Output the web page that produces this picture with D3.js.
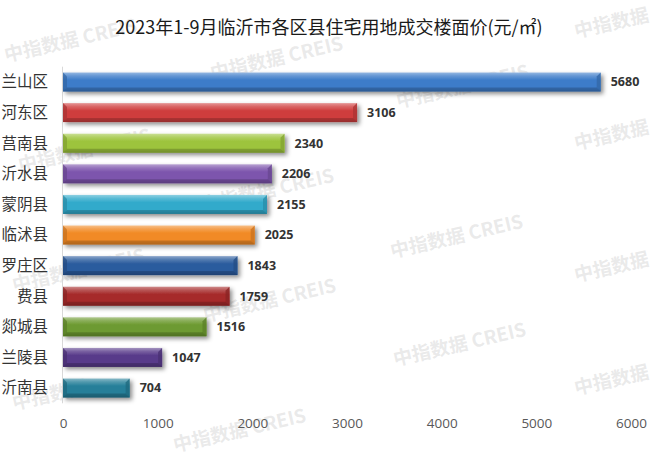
<!DOCTYPE html>
<html><head><meta charset="utf-8">
<script src="https://cdn.jsdelivr.net/npm/d3@7"></script>
<style>html,body{margin:0;padding:0;background:#fff;}svg{display:block;}</style>
</head><body>
<svg id="c" width="660" height="463"></svg>
<script>
const title = "2023年1-9月临沂市各区县住宅用地成交楼面价(元/㎡)";
const categories = ["兰山区","河东区","莒南县","沂水县","蒙阴县","临沭县","罗庄区","费县","郯城县","兰陵县","沂南县"];
const values = [5680,3106,2340,2206,2155,2025,1843,1759,1516,1047,704];
const barColors = ["#3d7cc9","#cf3e3e","#9dc43c","#7d55ad","#31aacb","#f18a25","#2b5c9e","#a62b2b","#6d9a30","#583a8a","#257f99"];
const tickValues = [0,1000,2000,3000,4000,5000,6000];
const watermarkFull = "中指数据 CREIS";
const watermarkShort = "中指数据";
const watermarkFullAnchors = [[6,62],[212,80],[398,108],[20,172],[203,212],[392,258],[14,292],[205,322],[395,366],[175,452]];
const watermarkShortAnchors = [[576,38],[576,150],[576,282],[576,395],[14,410]];

const svg = d3.select("#c");
const defs = svg.append("defs");
const f = defs.append("filter").attr("id","sh").attr("x","-10%").attr("y","-50%").attr("width","130%").attr("height","220%");
f.append("feDropShadow").attr("dx",2.5).attr("dy",2.5).attr("stdDeviation",2).attr("flood-color","#000").attr("flood-opacity",0.45);

barColors.forEach((c,i)=>{
  const base = d3.color(c);
  const g = defs.append("linearGradient").attr("id","g"+i).attr("x1",0).attr("y1",0).attr("x2",0).attr("y2",1);
  g.append("stop").attr("offset","0%").attr("stop-color", d3.interpolateRgb(c,"#fff")(0.45));
  g.append("stop").attr("offset","18%").attr("stop-color", d3.interpolateRgb(c,"#fff")(0.2));
  g.append("stop").attr("offset","40%").attr("stop-color", c);
  g.append("stop").attr("offset","80%").attr("stop-color", c);
  g.append("stop").attr("offset","100%").attr("stop-color", base.darker(0.7).toString());
});

// watermarks
const wm = svg.append("g").attr("class","watermark");
function addWm(list, txt){
  list.forEach(([x,y])=>{
    wm.append("text").attr("x",x).attr("y",y)
      .attr("transform",`rotate(-13 ${x} ${y})`)
      .attr("font-family","'Noto Sans CJK SC','Microsoft YaHei',sans-serif")
      .attr("font-size",19).attr("font-weight","bold")
      .attr("fill","#bdbdbd").attr("fill-opacity",0.33)
      .text(txt);
  });
}
addWm(watermarkFullAnchors, watermarkFull);
addWm(watermarkShortAnchors, watermarkShort);

// title
svg.append("text").attr("x",329).attr("y",34).attr("text-anchor","middle")
  .attr("font-family","'Noto Sans CJK SC',sans-serif").attr("font-size",18)
  .attr("fill","#1a1a1a").text(title);

const x = d3.scaleLinear().domain([0,6000]).range([63,631]);
const y = d3.scaleBand().domain(categories).range([66.7,403.3]).paddingInner(0.38).paddingOuter(0.19);

// axis line
svg.append("line").attr("x1",62.5).attr("x2",62.5).attr("y1",66.7).attr("y2",403.3).attr("stroke","#d9d9d9").attr("stroke-width",1);

// category labels
svg.append("g").selectAll("text").data(categories).join("text")
  .attr("x",48).attr("y",d=>y(d)+y.bandwidth()/2).attr("dy","0.35em")
  .attr("text-anchor","end").attr("font-family","'Noto Sans CJK SC',sans-serif")
  .attr("font-size",15.5).attr("fill","#333").text(d=>d);

// bars
const bars = svg.append("g").selectAll("g").data(values).join("g");
bars.append("rect")
  .attr("x",x(0)).attr("y",(d,i)=>y(categories[i]))
  .attr("width",d=>x(d)-x(0)).attr("height",y.bandwidth())
  .attr("fill",(d,i)=>`url(#g${i})`).attr("filter","url(#sh)");
// bevel facets
const bv = 4;
bars.append("path").attr("d",(d,i)=>{
  const x1=x(d), y0=y(categories[i]), h=y.bandwidth();
  return `M${x1},${y0} L${x1},${y0+h} L${x1-bv},${y0+h-bv} L${x1-bv},${y0+bv} Z`;
}).attr("fill",(d,i)=>d3.color(barColors[i]).darker(0.5).toString()).attr("fill-opacity",0.8);
bars.append("path").attr("d",(d,i)=>{
  const x0=x(0), y0=y(categories[i]), h=y.bandwidth();
  return `M${x0},${y0} L${x0+bv},${y0+bv} L${x0+bv},${y0+h-bv} L${x0},${y0+h} Z`;
}).attr("fill",(d,i)=>d3.color(barColors[i]).darker(0.6).toString()).attr("fill-opacity",0.7);
bars.append("path").attr("d",(d,i)=>{
  const x0=x(0), x1=x(d), y0=y(categories[i]), h=y.bandwidth();
  return `M${x0},${y0+h} L${x0+bv},${y0+h-bv} L${x1-bv},${y0+h-bv} L${x1},${y0+h} Z`;
}).attr("fill",(d,i)=>d3.color(barColors[i]).darker(1.0).toString()).attr("fill-opacity",0.6);

// value labels
svg.append("g").selectAll("text").data(values).join("text")
  .attr("x",d=>x(d)+10).attr("y",(d,i)=>y(categories[i])+y.bandwidth()/2).attr("dy","0.35em")
  .attr("font-family","'Open Sans','DejaVu Sans',sans-serif").attr("font-weight","bold")
  .attr("font-size",12.5).attr("fill","#333").text(d=>d);

// x axis tick labels
const ax = svg.append("g").attr("transform","translate(0,410)")
  .call(d3.axisBottom(x).tickValues(tickValues).tickSize(0).tickPadding(8).tickFormat(d3.format("d")));
ax.select(".domain").remove();
ax.selectAll("text").attr("font-family","'Open Sans','DejaVu Sans',sans-serif").attr("font-size",13.5).attr("fill","#595959");
</script>
</body></html>
